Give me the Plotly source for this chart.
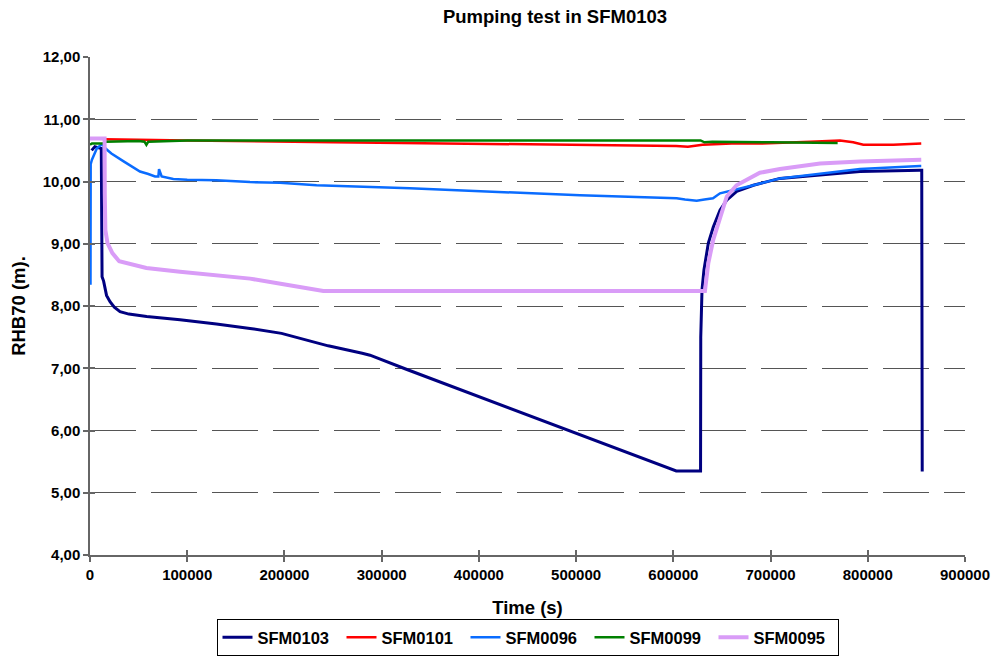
import plotly.graph_objects as go

# Head measurements during the pumping test (time in s, head in m)
t_sfm0103 = [1700, 5000, 9000, 11600, 12000, 12400, 14000, 15400, 17000, 20600, 25000, 30900,
             40000, 58300, 92600, 130000, 164600, 197000, 222000, 245000, 280000, 288000,
             326000, 603000, 628000, 628200, 629500, 631500, 636000, 641100, 648000, 654900,
             665200, 682300, 709700, 750900, 792000, 853700, 855500, 856000]
h_sfm0103 = [10.50, 10.56, 10.54, 10.53, 9.50, 8.47, 8.40, 8.31, 8.17, 8.07, 7.98, 7.91,
             7.87, 7.83, 7.78, 7.71, 7.64, 7.56, 7.46, 7.36, 7.24, 7.21,
             6.98, 5.35, 5.35, 7.50, 8.26, 8.58, 9.01, 9.27, 9.54, 9.70,
             9.84, 9.94, 10.05, 10.10, 10.16, 10.18, 10.18, 5.34]

t_sfm0101 = [14000, 20000, 50000, 100000, 180000, 250000, 320000, 450000, 560000, 603000,
             615000, 625000, 630000, 660000, 689000, 740600, 771400, 785000, 795400, 826300,
             853700, 855000]
h_sfm0101 = [10.68, 10.68, 10.67, 10.66, 10.64, 10.63, 10.62, 10.60, 10.58, 10.57,
             10.56, 10.58, 10.59, 10.61, 10.61, 10.64, 10.66, 10.63, 10.59, 10.59,
             10.61, 10.61]

t_sfm0096 = [500, 700, 2000, 4000, 7000, 9000, 12500, 16000, 22000, 35000, 51400, 60000,
             66900, 70300, 71000, 73700, 85700, 100000, 130000, 164600, 195400, 233000,
             281000, 329000, 504000, 590000, 603400, 612000, 624000, 632000, 640800, 648000,
             665200, 682300, 709700, 750900, 792000, 853700, 855000]
h_sfm0096 = [8.34, 10.28, 10.35, 10.43, 10.53, 10.56, 10.60, 10.53, 10.45, 10.32, 10.16, 10.12,
             10.08, 10.08, 10.20, 10.08, 10.04, 10.03, 10.02, 9.99, 9.98, 9.94,
             9.92, 9.89, 9.78, 9.74, 9.73, 9.71, 9.69, 9.71, 9.73, 9.81,
             9.87, 9.94, 10.05, 10.13, 10.20, 10.25, 10.25]

t_sfm0099 = [0, 2000, 14000, 16000, 50000, 56000, 58000, 60000, 100000, 200000, 400000,
             600000, 628000, 632000, 640000, 700000, 769000]
h_sfm0099 = [10.59, 10.61, 10.61, 10.64, 10.65, 10.64, 10.59, 10.64, 10.66, 10.66, 10.67,
             10.67, 10.66, 10.63, 10.64, 10.63, 10.62]

t_sfm0095 = [0, 15000, 15200, 15800, 18000, 23000, 30000, 38000, 45000, 58000, 92600,
             127000, 164600, 199000, 233000, 240000, 632500, 636000, 641000, 648000, 655000,
             665000, 682000, 689000, 709700, 750900, 792000, 853700, 855000]
h_sfm0095 = [10.69, 10.69, 9.80, 9.22, 9.01, 8.85, 8.72, 8.69, 8.66, 8.61, 8.55,
             8.50, 8.44, 8.35, 8.26, 8.24, 8.24, 8.69, 9.06, 9.43, 9.76,
             9.94, 10.08, 10.14, 10.20, 10.29, 10.32, 10.35, 10.35]

series = [
    ("SFM0103", t_sfm0103, h_sfm0103, "#000080", 3.0),
    ("SFM0101", t_sfm0101, h_sfm0101, "#FF0000", 2.5),
    ("SFM0096", t_sfm0096, h_sfm0096, "#0A6CFF", 2.5),
    ("SFM0099", t_sfm0099, h_sfm0099, "#008000", 2.5),
    ("SFM0095", t_sfm0095, h_sfm0095, "#D99CF7", 4.0),
]

X_RANGE = [0, 900000]
Y_RANGE = [4, 12]
FONT = "Arial, Liberation Sans, sans-serif"
AXIS_GREY = "#666666"

fig = go.Figure()
for name, t, h, color, width in series:
    fig.add_trace(go.Scatter(x=t, y=h, name=name, mode="lines",
                             line=dict(color=color, width=width)))

# empty trace on the overlay axes that carry the inner half of the cross tick marks
fig.add_trace(go.Scatter(x=[], y=[], xaxis="x2", yaxis="y2", showlegend=False,
                         hoverinfo="skip"))

axis_common = dict(
    showline=True, linecolor=AXIS_GREY, linewidth=1.5,
    ticks="outside", ticklen=5, tickcolor=AXIS_GREY, tickwidth=1.5,
    tickfont=dict(family=FONT, size=15, color="black", weight="bold"),
    zeroline=False, automargin=False,
)
inner_ticks = dict(ticks="inside", ticklen=5, tickcolor=AXIS_GREY, tickwidth=1.5,
                   showticklabels=False, showgrid=False, showline=False,
                   zeroline=False, automargin=False)

fig.update_layout(
    width=992, height=657,
    margin=dict(l=90, r=27, t=57, b=102, autoexpand=False),
    plot_bgcolor="white", paper_bgcolor="white",
    separators=",.",
    title=dict(text="Pumping test in SFM0103", x=555 / 992, xref="container", xanchor="center",
               y=1 - 17 / 657, yref="container", yanchor="middle",
               font=dict(family=FONT, size=18.5, color="black", weight="bold")),
    xaxis=dict(range=X_RANGE, dtick=100000, tick0=0, tickformat="d",
               showgrid=False,
               title=dict(text="Time (s)", standoff=19,
                          font=dict(family=FONT, size=18.5, color="black", weight="bold")),
               **axis_common),
    yaxis=dict(range=Y_RANGE, dtick=1, tick0=4, tickformat=".2f",
               showgrid=True, gridcolor="#555555", gridwidth=1, griddash="46px,15px",
               title=dict(text="RHB70 (m).", standoff=12,
                          font=dict(family=FONT, size=18.5, color="black", weight="bold")),
               **axis_common),
    xaxis2=dict(range=X_RANGE, dtick=100000, tick0=0, overlaying="x", anchor="y",
                side="bottom", **inner_ticks),
    yaxis2=dict(range=Y_RANGE, dtick=1, tick0=4, overlaying="y", anchor="x",
                side="left", **inner_ticks),
    legend=dict(orientation="h", x=0.5, xanchor="center", y=-(656 - 555) / 498,
                yanchor="bottom", bordercolor="black", borderwidth=1,
                font=dict(family=FONT, size=16.5, color="black", weight="bold"),
                entrywidth=79, entrywidthmode="pixels",
                itemwidth=30, tracegroupgap=0),
    showlegend=True,
)

fig.write_html("out.html")
